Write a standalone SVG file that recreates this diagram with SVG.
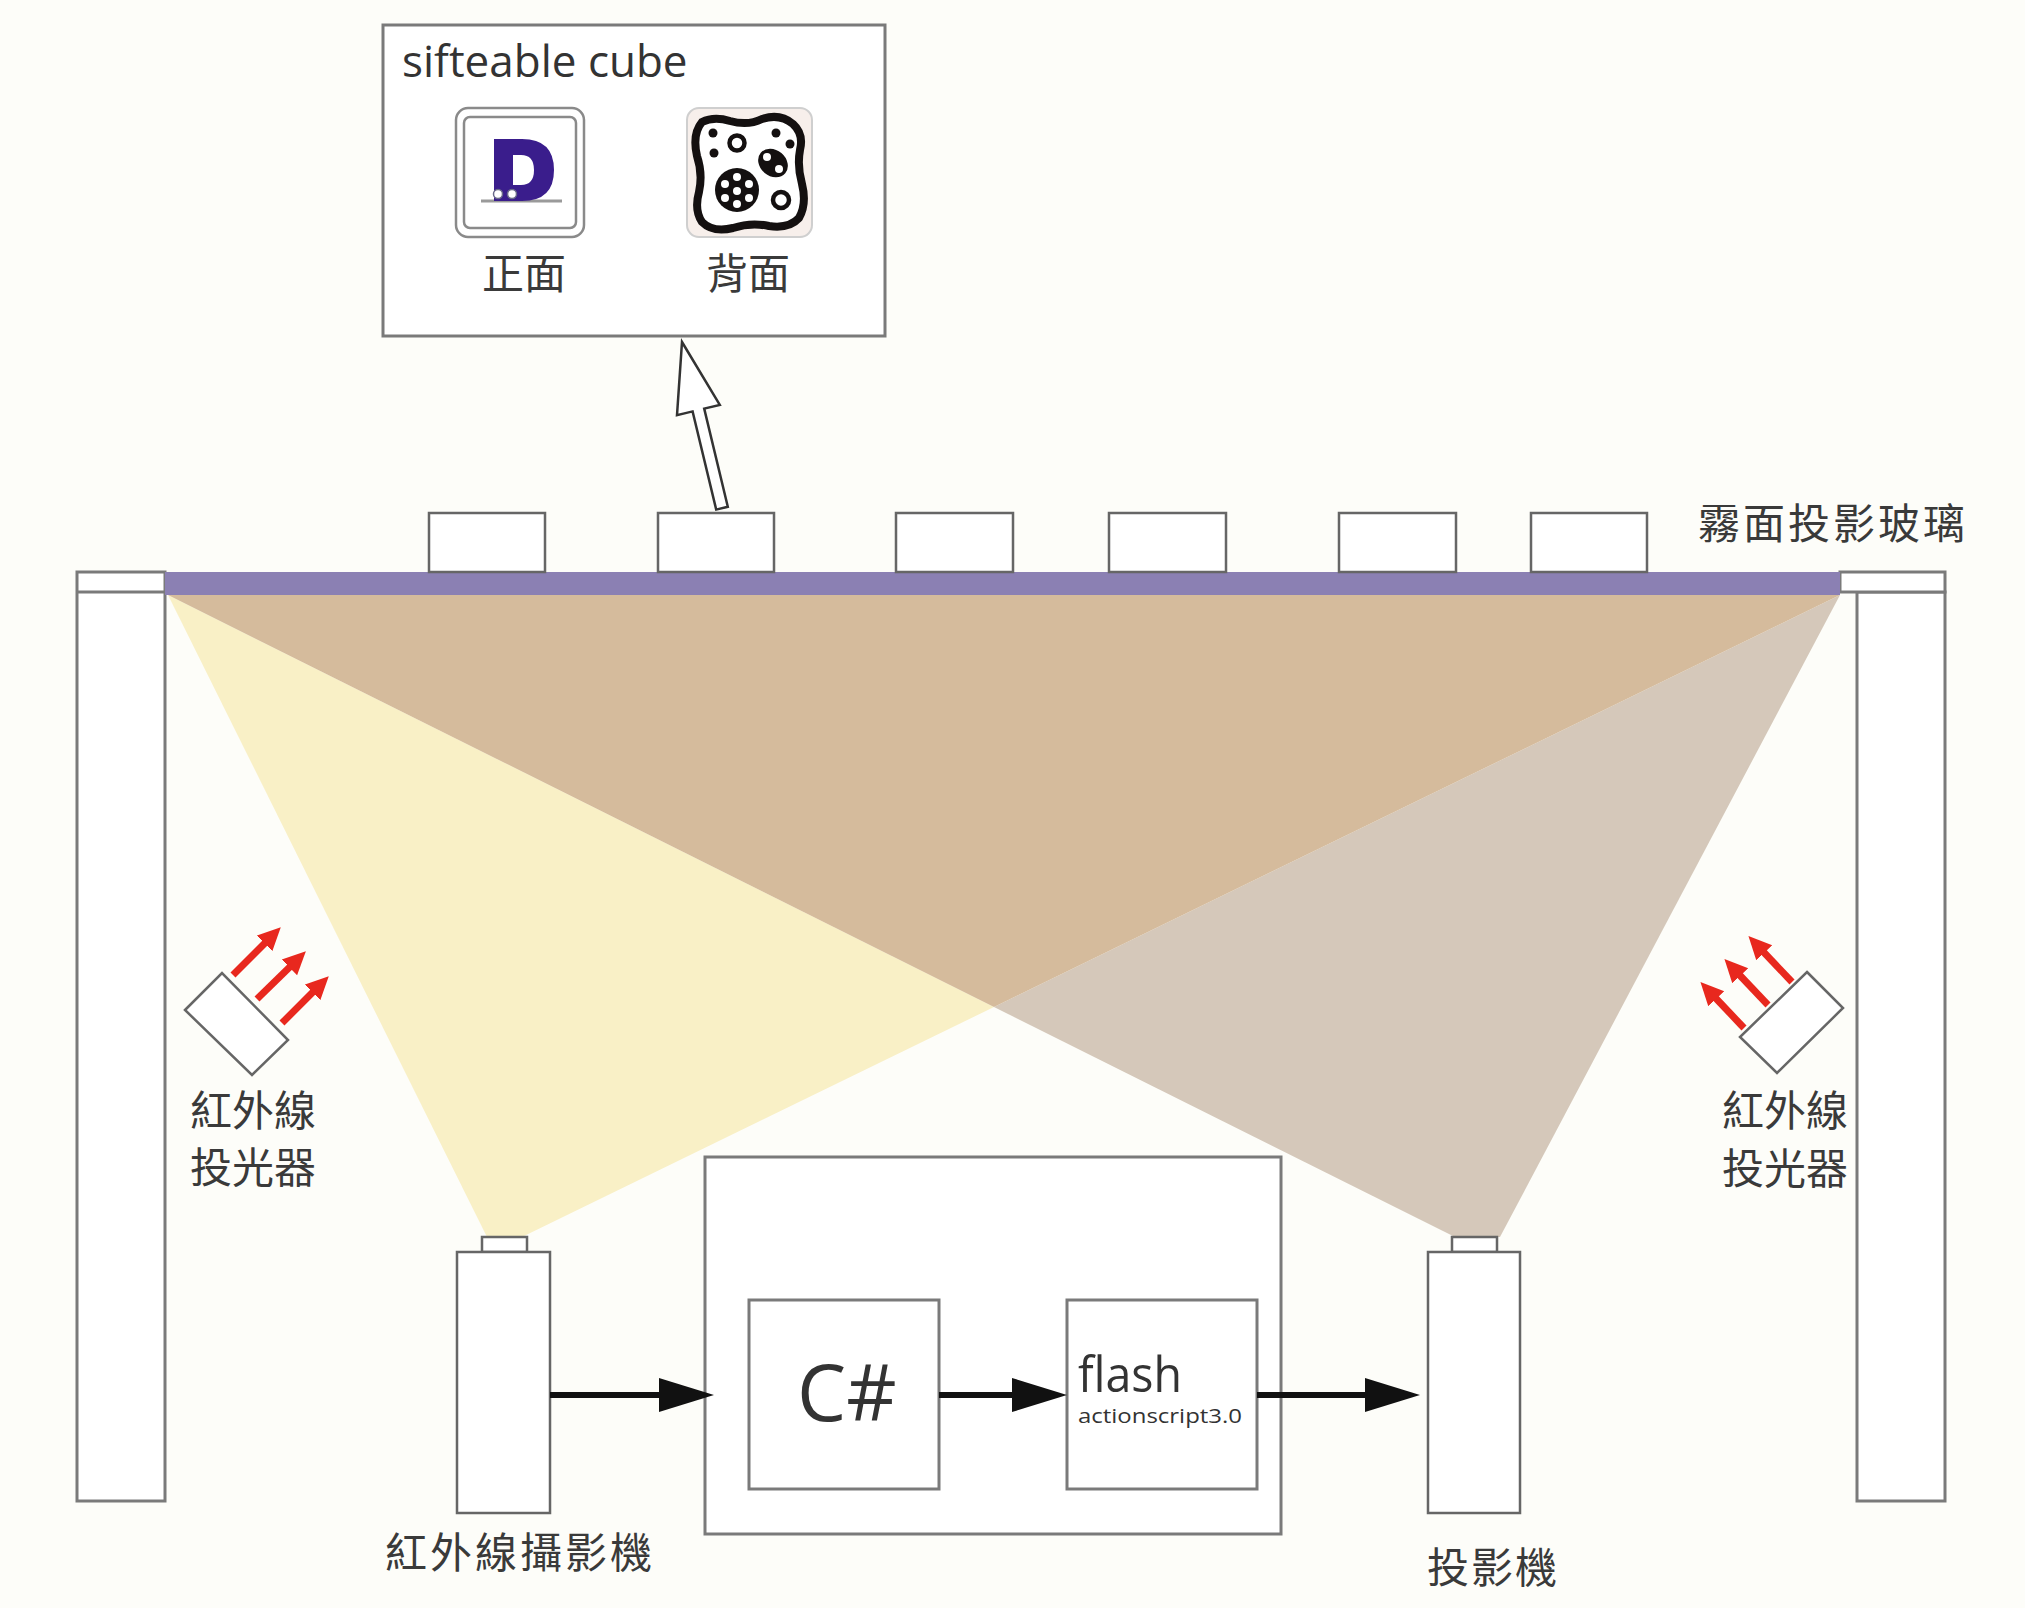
<svg xmlns="http://www.w3.org/2000/svg" width="2025" height="1608" viewBox="0 0 2025 1608">
  <style>
    .box { fill: #ffffff; stroke: #7a7a7a; stroke-width: 3; }
    .dev { fill: #ffffff; stroke: #666666; stroke-width: 2.5; }
    .cjk { font-family: "Noto Sans CJK TC", "Noto Sans CJK SC", sans-serif; fill: #3a3a3a; font-size: 42px; }
    .lat { font-family: "Open Sans", "Liberation Sans", sans-serif; fill: #333333; }
    .flow { stroke: #111111; stroke-width: 6; fill: none; }
    .ir { stroke: #e8281e; stroke-width: 7; fill: none; }
  </style>
  <defs>
    <marker id="head" markerUnits="userSpaceOnUse" markerWidth="55" markerHeight="34" refX="45" refY="17" orient="auto">
      <path d="M0,0 L55,17 L0,34 Z" fill="#111111"/>
    </marker>
    <marker id="irhead" markerUnits="userSpaceOnUse" markerWidth="24" markerHeight="24" refX="12" refY="12" orient="auto">
      <path d="M0,1 L23,12 L0,23 Z" fill="#e8281e"/>
    </marker>
  </defs>

  <rect width="2025" height="1608" fill="#fdfdf9"/>

  <!-- light cones: camera-only field, projector-only beam, and their overlap -->
  <g id="cones">
    <polygon points="168,595 994,1007 522,1237 487,1237" fill="#f9f0c6"/>
    <polygon points="1840,595 994,1007 1455,1237 1500,1237" fill="#d5c8ba"/>
    <polygon points="168,595 1840,595 994,1007" fill="#d5bb9c"/>
  </g>

  <!-- table legs -->
  <g id="leg-left">
    <rect class="box" x="77" y="572" width="88" height="929"/>
    <line x1="77" y1="592" x2="165" y2="592" stroke="#7a7a7a" stroke-width="3"/>
  </g>
  <g id="leg-right">
    <rect class="box" x="1857" y="592" width="88" height="909"/>
    <rect class="box" x="1840" y="572" width="105" height="20"/>
  </g>

  <!-- frosted projection glass -->
  <g id="glass">
    <rect x="165" y="572" width="1675" height="23" fill="#8b80b3"/>
    <text class="cjk" x="1698" y="539" letter-spacing="3">霧面投影玻璃</text>
  </g>

  <!-- cubes resting on the glass -->
  <g id="cubes">
    <rect class="dev" x="429" y="513" width="116" height="59"/>
    <rect class="dev" x="658" y="513" width="116" height="59"/>
    <rect class="dev" x="896" y="513" width="117" height="59"/>
    <rect class="dev" x="1109" y="513" width="117" height="59"/>
    <rect class="dev" x="1339" y="513" width="117" height="59"/>
    <rect class="dev" x="1531" y="513" width="116" height="59"/>
  </g>

  <!-- callout arrow from a cube to the detail box -->
  <g id="callout">
    <polygon points="682,342 719.8,404.9 704.2,408.6 727.8,506.8 716.2,509.6 692.6,411.4 677,415.1" fill="#ffffff" stroke="#333333" stroke-width="2.5" stroke-linejoin="miter"/>
  </g>

  <!-- sifteable cube detail -->
  <g id="cube-detail">
    <rect class="box" x="383" y="25" width="502" height="311"/>
    <text class="lat" x="402" y="77" font-size="44">sifteable cube</text>
    <!-- front face -->
    <g id="front-face">
      <rect x="456" y="108" width="128" height="129" rx="12" fill="#ffffff" stroke="#8a8a8a" stroke-width="2.5"/>
      <rect x="464" y="117" width="112" height="111" rx="6" fill="#ffffff" stroke="#8a8a8a" stroke-width="2.5"/>
      <line x1="481" y1="201" x2="562" y2="201" stroke="#9a9a9a" stroke-width="3"/>
      <path d="M494,139 L522,139 Q554,139 554,170 Q554,201 522,201 L494,201 Z M513,155 L513,185 L521,185 Q534,185 534,170 Q534,155 521,155 Z" fill="#3a1d8c" fill-rule="evenodd"/>
      <circle cx="498" cy="194" r="4.5" fill="#ffffff" stroke="#6a6a8a" stroke-width="1.5"/>
      <circle cx="512" cy="194" r="4.5" fill="#ffffff" stroke="#6a6a8a" stroke-width="1.5"/>
      <text class="cjk" x="482" y="289">正面</text>
    </g>
    <!-- back face -->
    <g id="back-face">
      <rect x="687" y="108" width="125" height="129" rx="12" fill="#f7efeb" stroke="#cfcfcf" stroke-width="2"/>
      <path d="M702,122 Q714,116 730,121 Q748,126 762,119 Q780,113 793,124 Q804,134 800,150 Q797,166 802,184 Q807,204 799,218 Q789,229 769,226 Q751,222 733,228 Q713,233 702,222 Q694,210 699,192 Q703,174 697,156 Q692,134 702,122 Z" fill="#ffffff" stroke="#141010" stroke-width="8"/>
      <circle cx="713" cy="133" r="4.5" fill="#141010"/>
      <circle cx="714" cy="153" r="4.5" fill="#141010"/>
      <circle cx="776" cy="133" r="4.5" fill="#141010"/>
      <circle cx="790" cy="144" r="4.5" fill="#141010"/>
      <circle cx="737" cy="143" r="7.5" fill="none" stroke="#141010" stroke-width="4.5"/>
      <ellipse cx="773" cy="163" rx="16" ry="13" transform="rotate(40 773 163)" fill="#141010"/>
      <circle cx="767" cy="157" r="4" fill="#ffffff"/>
      <circle cx="779" cy="169" r="4" fill="#ffffff"/>
      <circle cx="737" cy="190" r="22" fill="#141010"/>
      <circle cx="737" cy="177" r="4" fill="#ffffff"/>
      <circle cx="725" cy="184" r="4" fill="#ffffff"/>
      <circle cx="749" cy="184" r="4" fill="#ffffff"/>
      <circle cx="737" cy="191" r="4" fill="#ffffff"/>
      <circle cx="725" cy="198" r="4" fill="#ffffff"/>
      <circle cx="749" cy="198" r="4" fill="#ffffff"/>
      <circle cx="737" cy="204" r="4" fill="#ffffff"/>
      <circle cx="781" cy="200" r="8" fill="none" stroke="#141010" stroke-width="4.5"/>
      <text class="cjk" x="706" y="289">背面</text>
    </g>
  </g>

  <!-- infrared emitters -->
  <g id="ir-left">
    <polygon class="dev" points="185,1010 222,973 288,1040 252,1075" fill="#fbfbfd"/>
    <line class="ir" x1="233" y1="975" x2="273" y2="935" marker-end="url(#irhead)"/>
    <line class="ir" x1="257" y1="999" x2="298" y2="959" marker-end="url(#irhead)"/>
    <line class="ir" x1="282" y1="1023" x2="321" y2="984" marker-end="url(#irhead)"/>
    <text class="cjk" x="190" y="1126" font-size="40">紅外線</text>
    <text class="cjk" x="190" y="1183" font-size="40">投光器</text>
  </g>
  <g id="ir-right">
    <polygon class="dev" points="1807,972 1843,1008 1777,1073 1740,1037" fill="#fbfbfd"/>
    <line class="ir" x1="1792" y1="982" x2="1756" y2="944" marker-end="url(#irhead)"/>
    <line class="ir" x1="1768" y1="1005" x2="1732" y2="967" marker-end="url(#irhead)"/>
    <line class="ir" x1="1744" y1="1028" x2="1708" y2="990" marker-end="url(#irhead)"/>
    <text class="cjk" x="1722" y="1126" font-size="40">紅外線</text>
    <text class="cjk" x="1722" y="1184" font-size="40">投光器</text>
  </g>

  <!-- infrared camera -->
  <g id="camera">
    <rect class="dev" x="482" y="1237" width="45" height="15"/>
    <rect class="dev" x="457" y="1252" width="93" height="261"/>
    <text class="cjk" x="385" y="1568" letter-spacing="3">紅外線攝影機</text>
  </g>

  <!-- computer -->
  <g id="computer">
    <rect class="box" x="705" y="1157" width="576" height="377"/>
    <g id="csharp">
      <rect class="box" x="749" y="1300" width="190" height="189"/>
      <text class="lat" x="797" y="1421" font-size="78" fill="#222222">C#</text>
    </g>
    <g id="flash">
      <rect class="box" x="1067" y="1300" width="190" height="189"/>
      <text class="lat" x="1078" y="1392" font-size="50" textLength="104" lengthAdjust="spacingAndGlyphs" fill="#222222">flash</text>
      <text class="lat" x="1078" y="1423" font-size="20" textLength="164" lengthAdjust="spacingAndGlyphs" fill="#555555">actionscript3.0</text>
    </g>
  </g>

  <!-- projector -->
  <g id="projector">
    <rect class="dev" x="1452" y="1237" width="45" height="15"/>
    <rect class="dev" x="1428" y="1252" width="92" height="261"/>
    <text class="cjk" x="1427" y="1583" letter-spacing="2">投影機</text>
  </g>

  <!-- data flow -->
  <g id="connectors">
    <line class="flow" x1="550" y1="1395" x2="704" y2="1395" marker-end="url(#head)"/>
    <line class="flow" x1="939" y1="1395" x2="1057" y2="1395" marker-end="url(#head)"/>
    <line class="flow" x1="1257" y1="1395" x2="1410" y2="1395" marker-end="url(#head)"/>
  </g>
</svg>
